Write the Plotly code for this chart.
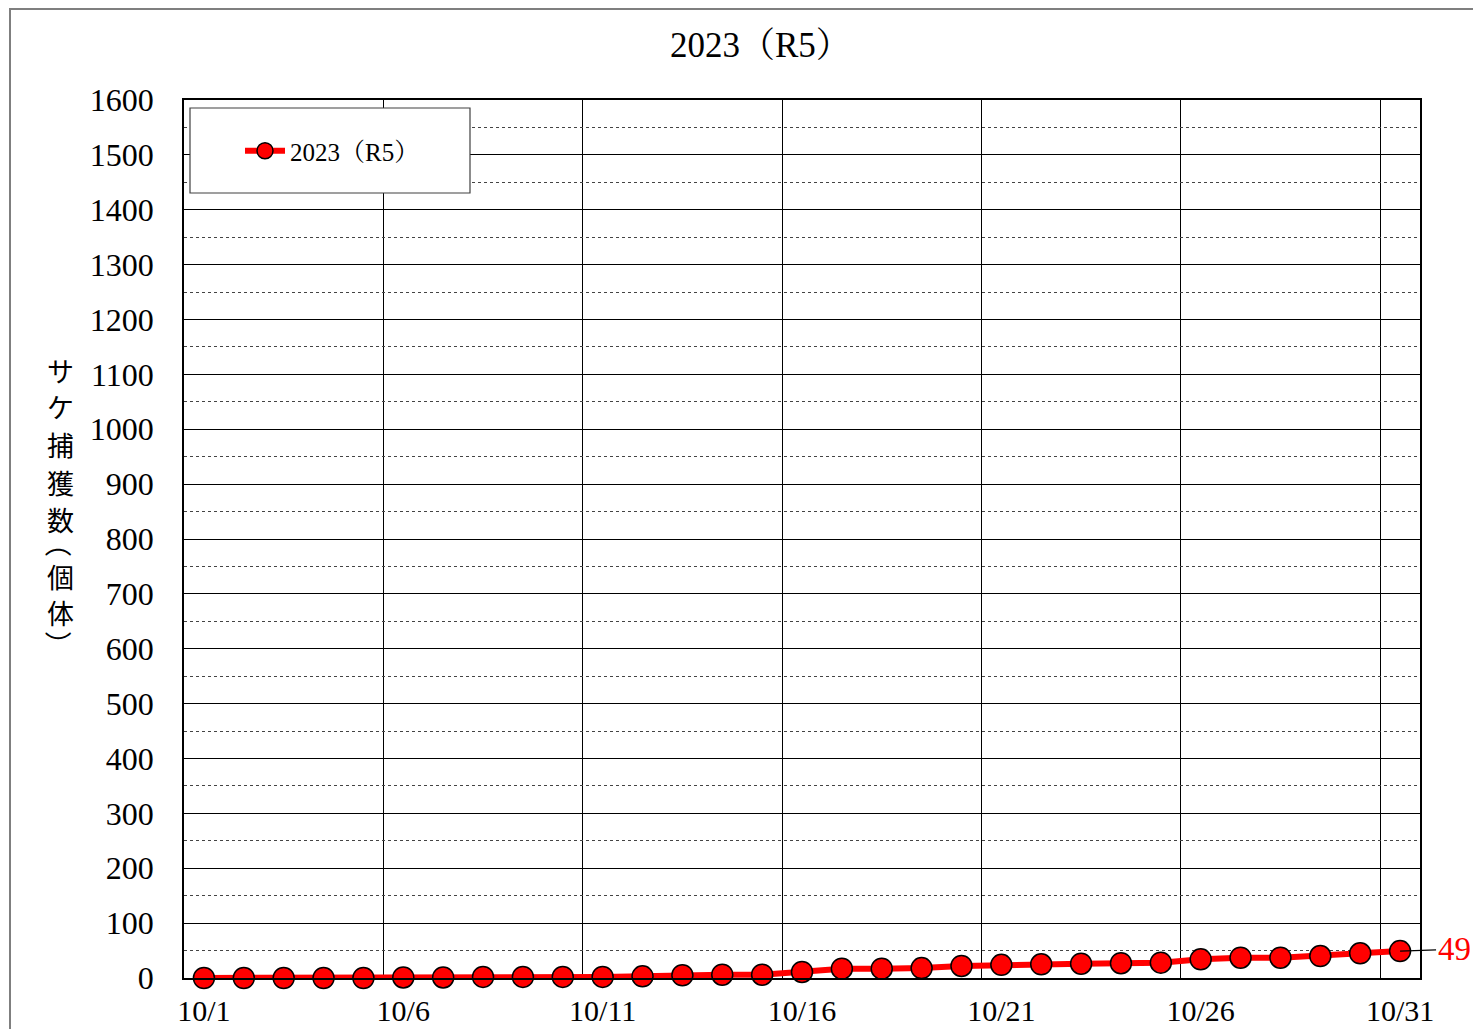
import plotly.graph_objects as go

days = list(range(1, 32))
tick_days = [1, 6, 11, 16, 21, 26, 31]
tick_labels = ["10/1", "10/6", "10/11", "10/16", "10/21", "10/26", "10/31"]
values = [0, 0, 0, 0, 0, 1, 1, 2, 2, 2,
          2, 3, 5, 6, 6, 11, 17, 17, 18, 22,
          24, 25, 26, 27, 28, 34, 37, 37, 40, 45, 49]
series_name = "2023（R5）"
title_text = "2023（R5）"
y_title_chars = ["サ", "ケ", "捕", "獲", "数", "（", "個", "体", "）"]
last_label = "49"

OFF = 8  # page body margin
W, H = 1481 - OFF, 1029 - OFF
L, R, T, B = 184 - OFF, 1420 - OFF, 100 - OFF, 978 - OFF


def px_x(p):
    return (p - OFF - L) / (R - L)


def px_y(p):
    return (B - (p - OFF)) / (B - T)


serif = "Liberation Serif, Noto Serif CJK JP, Noto Sans CJK JP, serif"

fig = go.Figure()
fig.add_trace(go.Scatter(
    x=days, y=values, name=series_name, mode="lines+markers",
    line=dict(color="#ff0000", width=6),
    marker=dict(symbol="circle", size=21, color="#ff0000",
                line=dict(color="#000000", width=1.5)),
    cliponaxis=False,
))

fig.update_layout(
    width=W, height=H,
    margin=dict(l=L, r=W - R, t=T, b=H - B, autoexpand=False),
    paper_bgcolor="white", plot_bgcolor="white",
    font=dict(family=serif, color="#000000", size=28),
    showlegend=True,
    legend=dict(x=px_x(240), y=px_y(151), xanchor="left", yanchor="middle",
                bgcolor="rgba(0,0,0,0)", borderwidth=0,
                font=dict(family=serif, size=25), itemwidth=40),
)

fig.update_xaxes(
    range=[0.5, 31.5], tickmode="array", tickvals=tick_days, ticktext=tick_labels,
    showgrid=False, zeroline=False, showline=True, linecolor="#000000",
    linewidth=1.5, mirror=True, ticks="", ticklabelstandoff=5,
    tickfont=dict(family=serif, size=30),
    minor=dict(tickmode="array", tickvals=[5.5, 10.5, 15.5, 20.5, 25.5, 30.5],
               showgrid=True, gridcolor="#000000", gridwidth=1, ticks=""),
    automargin=False,
)
fig.update_yaxes(
    range=[0, 1600], dtick=100, tick0=0, showgrid=True, gridcolor="#000000",
    gridwidth=1, zeroline=False, showline=True, linecolor="#000000",
    linewidth=1.5, mirror=True, ticks="", ticklabelstandoff=22,
    tickfont=dict(family=serif, size=32),
    minor=dict(dtick=50, tick0=0, showgrid=True, gridcolor="#444444",
               gridwidth=1, griddash="dot", ticks=""),
    automargin=False,
)

# outer chart border
fig.add_shape(type="rect", xref="paper", yref="paper",
              x0=px_x(10), x1=px_x(1495), y0=px_y(1040), y1=px_y(9),
              line=dict(color="#7f7f7f", width=2), fillcolor="rgba(0,0,0,0)",
              layer="below")
# legend box
fig.add_shape(type="rect", xref="paper", yref="paper",
              x0=px_x(190), x1=px_x(470), y0=px_y(193), y1=px_y(108),
              line=dict(color="#404040", width=1.2), fillcolor="white",
              layer="above")

fig.add_annotation(xref="paper", yref="paper", x=px_x(760), y=px_y(45),
                   text=title_text, showarrow=False,
                   font=dict(family=serif, size=35), xanchor="center",
                   yanchor="middle")

char_centers = [370, 406, 444, 483, 520, 543, 576, 612, 644]
for ch, cy in zip(y_title_chars, char_centers):
    is_paren = ch in "（）"
    fig.add_annotation(xref="paper", yref="paper", x=px_x(60), y=px_y(cy),
                       text=ch, showarrow=False,
                       textangle=90 if is_paren else 0,
                       font=dict(family="Noto Sans CJK JP", size=27),
                       xanchor="center", yanchor="middle")

fig.add_annotation(x=days[-1], y=values[-1], text=last_label,
                   showarrow=True, arrowhead=0, arrowwidth=1.2,
                   arrowcolor="#000000", ax=54, ay=-2, standoff=0,
                   font=dict(family=serif, size=33, color="#ff0000"))

fig.write_html("out.html")
